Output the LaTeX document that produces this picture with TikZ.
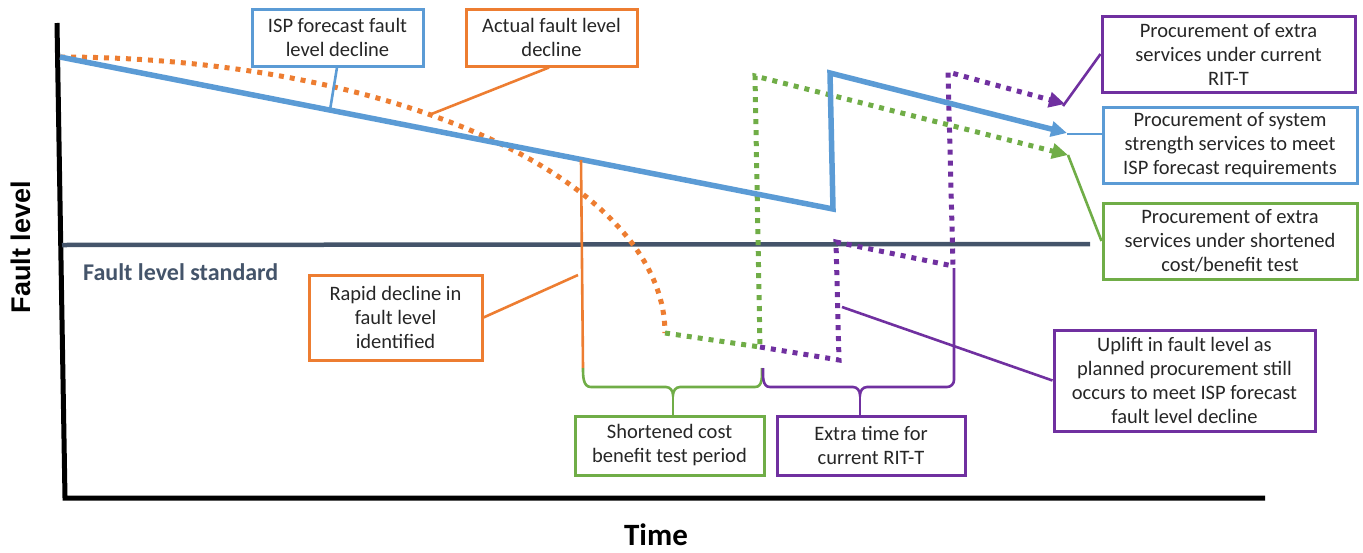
\documentclass[tikz,border=0pt]{standalone}
\usepackage{fontspec}
\setmainfont{Carlito}
\newfontfamily\arialf{Liberation Sans}
\usetikzlibrary{arrows.meta}
\definecolor{cblue}{HTML}{5B9BD5}
\definecolor{corange}{HTML}{ED7D31}
\definecolor{cgreen}{HTML}{70AD47}
\definecolor{cpurple}{HTML}{7030A0}
\definecolor{cdark}{HTML}{44546A}
\begin{document}
\begin{tikzpicture}[x=1pt,y=-1pt,
 box/.style={draw, line width=3pt, align=center, inner sep=0pt, font=\fontsize{20.5}{24}\selectfont, text=black!85},
 leader/.style={line width=2.6pt},
 dots/.style={line width=5pt, dash pattern=on 5pt off 6pt},
 tip/.style={-{Triangle[length=16pt,width=15pt]}},
]
\useasboundingbox (0,0) rectangle (1363,552);
% coordinates
\coordinate (ytop) at (57,23);
\coordinate (ybot) at (65,498);
\coordinate (xend) at (1265,498);
\coordinate (o) at (60,57);
\coordinate (b1) at (833,209);
\coordinate (b2) at (830,73);
\coordinate (b3) at (1067,133);
\coordinate (g0) at (665,333);
\coordinate (g1) at (760,347);
\coordinate (g2) at (755,76);
\coordinate (g3) at (1068,155);
\coordinate (p1) at (839,360);
\coordinate (p2) at (836,242);
\coordinate (p3) at (953,266);
\coordinate (p4) at (948,72);
\coordinate (p5) at (1065,104);
\coordinate (s0) at (62,245);
\coordinate (s1) at (1090,244);
\coordinate (ov0) at (581,160);
\coordinate (ov1) at (583,368);
\coordinate (ispT) at (330,110);
\coordinate (actT) at (429,115);
\coordinate (rapT) at (578,275);
\coordinate (upT) at (842,307);
\coordinate (pcT) at (1063,106);
\coordinate (psT) at (1067,134);
\coordinate (pshT) at (1068,155);
\coordinate (gb) at (673,395);
\coordinate (pb) at (860,395);

% axes
\draw[line width=5pt, line join=miter] (ytop) -- (ybot) -- (xend);
% standard
\draw[cdark, line width=4.5pt] (s0) -- (s1);
\node[anchor=base west, inner sep=0pt, text=cdark, font=\bfseries\fontsize{24}{28}\selectfont] (std) at (83,280) {Fault level standard};

% axis labels
\node[rotate=90, font=\arialf\bfseries\fontsize{27}{30}\selectfont] (ylab) at (21,247) {Fault level};
\node[anchor=base, inner sep=0pt, font=\bfseries\fontsize{31}{34}\selectfont] (xlab) at (656,545) {Time};

% curves
\draw[corange, dots] plot[domain=-90:0, samples=90] ({60+605*cos(\x)}, {333+276*sin(\x)});
\draw[cgreen, dots, tip] (g0) -- (g1) -- (g2) -- (g3);
\draw[cpurple, dots, tip] (g1) -- (p1) -- (p2) -- (p3) -- (p4) -- (p5);
\draw[cblue, line width=5.5pt, line join=miter, tip] (o) -- (b1) -- (b2) -- (b3);

% boxes
\node[box, draw=cblue, minimum width=171pt, minimum height=57pt] (isp) at (337.5,37.5) {ISP forecast fault\\level decline};
\node[box, draw=corange, minimum width=171pt, minimum height=57pt] (act) at (551.5,37.5) {Actual fault level\\decline};
\node[box, draw=corange, minimum width=173pt, minimum height=85pt] (rapid) at (395.5,317.5) {Rapid decline in\\fault level\\identified};
\node[box, draw=cgreen, minimum width=189pt, minimum height=59pt] (short) at (669.5,445.5) {Shortened cost\\benefit test period};
\node[box, draw=cpurple, minimum width=188pt, minimum height=59pt] (extra) at (871,445.5) {Extra time for\\current RIT-T};
\node[box, draw=cpurple, minimum width=261pt, minimum height=101pt] (uplift) at (1184.5,380.5) {Uplift in fault level as\\planned procurement still\\occurs to meet ISP forecast\\fault level decline};
\node[box, draw=cpurple, minimum width=253pt, minimum height=76pt] (pcur) at (1228.5,54) {Procurement of extra\\services under current\\RIT-T};
\node[box, draw=cblue, minimum width=254pt, minimum height=76pt] (psys) at (1230,145.5) {Procurement of system\\strength services to meet\\ISP forecast requirements};
\node[box, draw=cgreen, minimum width=254pt, minimum height=76pt] (pshort) at (1230,241) {Procurement of extra\\services under shortened\\cost/benefit test};

% leaders
\draw[cblue, leader] ([xshift=-0.5pt]isp.south) -- (ispT);
\draw[corange, leader] ([xshift=-2.5pt]act.south) -- (actT);
\draw[corange, leader] (rapid.east) -- (rapT);
\draw[corange, leader] (ov0) -- (ov1);
\draw[cpurple, leader] (uplift.west) -- (upT);
\draw[cpurple, leader] (pcur.west) -- (pcT);
\draw[cblue, leader] (psys.west |- psT) -- (psT);
\draw[cgreen, leader] (pshort.west) -- (pshT);

% braces
\draw[cgreen, leader] (ov1) to[out=-90,in=180] (591,387) -- (666,387) to[out=0,in=90] (gb) to[out=90,in=180] (680,387) -- (755,387) to[out=0,in=-90] (762,368);
\draw[cgreen, leader] (gb) -- (gb |- short.north);
\draw[cpurple, leader] (763,368) to[out=-90,in=180] (770,387) -- (853,387) to[out=0,in=90] (pb) to[out=90,in=180] (867,387) -- (947,387) to[out=0,in=-90] (954,380) -- (954,268);
\draw[cpurple, leader] (pb) -- (pb |- extra.north);
\end{tikzpicture}
\end{document}
